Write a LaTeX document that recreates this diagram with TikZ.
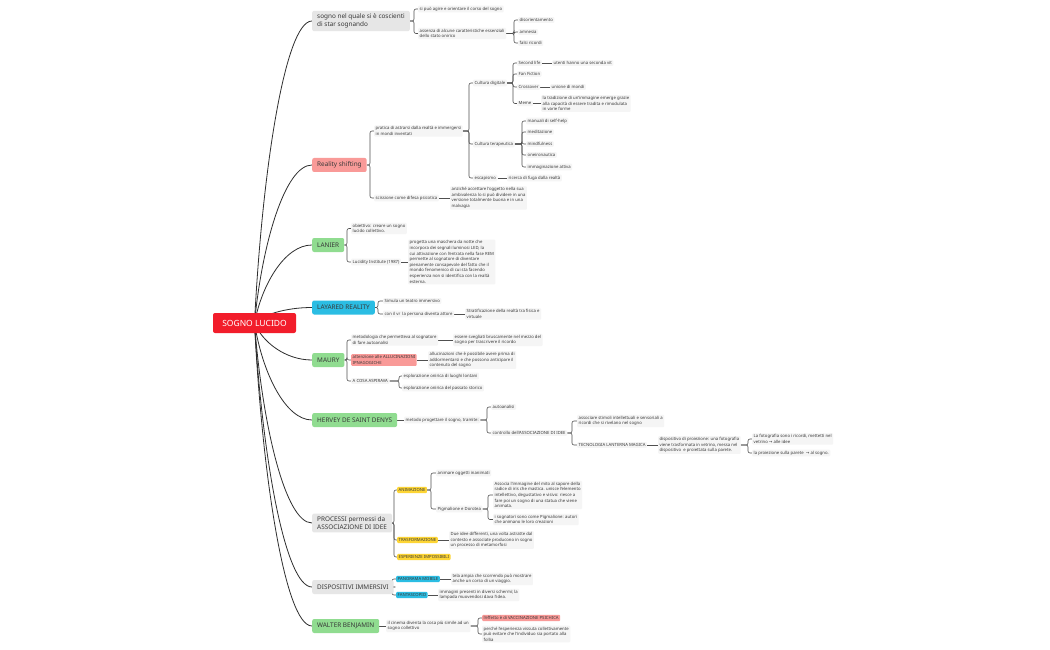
\documentclass[tikz,border=0pt]{standalone}
\usepackage{fontspec}
\setmainfont{Noto Sans}
\newfontfamily\symf{DejaVu Sans}
\usetikzlibrary{backgrounds}
\definecolor{rootred}{HTML}{F21D2B}
\definecolor{pinkc}{HTML}{F99A98}
\definecolor{greenc}{HTML}{90DC90}
\definecolor{cyanc}{HTML}{2BBDE3}
\definecolor{yelc}{HTML}{FDD535}
\definecolor{maingray}{HTML}{E6E6E6}
\definecolor{leafbg}{HTML}{F5F5F5}
\definecolor{txt}{HTML}{383838}
\definecolor{linegray}{HTML}{505050}
\definecolor{linedark}{HTML}{2E2E2E}
\newcommand\arr{{\symf →}}
\newcommand\brk[3]{\draw[conn] (#1.east) -- (#3,0 |- #1.east) |- (#2.west);}
\newcommand\stl[2]{\draw[conn] (#1.east) -- (#2.west);}
\newcommand\rc[2]{\draw[rootconn] (root.center) .. controls (262,{(323+#2)/2}) and (285,#2) .. (#1.west);}
\tikzset{
  conn/.style={draw=linegray, line width=0.6pt, rounded corners=2pt},
  rootconn/.style={draw=linedark, line width=0.8pt},
  leaf/.style={anchor=west, fill=leafbg, rounded corners=1pt, inner xsep=1.5pt, inner ysep=1.2pt,
    font=\fontsize{4.25}{5.6}\selectfont, align=left, text=txt},
  tagred/.style={leaf, fill=pinkc, inner ysep=1.5pt},
  tagyel/.style={leaf, fill=yelc, inner ysep=1.5pt},
  tagcyan/.style={leaf, fill=cyanc, inner ysep=1.5pt},
  mainb/.style={anchor=west, rounded corners=2pt, inner xsep=5pt, inner ysep=3pt, minimum height=14pt,
    font=\fontsize{6.4}{8}\selectfont, align=left, text=txt},
  mgray/.style={mainb, fill=maingray},
  mpink/.style={mainb, fill=pinkc},
  mgreen/.style={mainb, fill=greenc},
  mcyan/.style={mainb, fill=cyanc},
  rootn/.style={fill=rootred, text=white, rounded corners=2pt, minimum width=83pt, minimum height=20pt,
    font=\bfseries\fontsize{8.5}{10}\selectfont}
}
\begin{document}
\begin{tikzpicture}[x=1pt,y=-1pt]
\useasboundingbox (0,0) rectangle (1050,650);
% root and main branches
\node[rootn] (root) at (254.5,323) {SOGNO LUCIDO};
\node[mgray] (b1) at (312,21) {sogno nel quale si è coscienti\\di star sognando};
\node[mpink] (b2) at (312,165) {Reality shifting};
\node[mgreen] (b3) at (312,245) {LANIER};
\node[mcyan] (b4) at (312,307.5) {LAYARED REALITY};
\node[mgreen] (b5) at (312,360) {MAURY};
\node[mgreen] (b6) at (312,420) {HERVEY DE SAINT DENYS};
\node[mgray] (b7) at (312,523) {PROCESSI permessi da\\ASSOCIAZIONE DI IDEE};
\node[mgray] (b8) at (312,587) {DISPOSITIVI IMMERSIVI};
\node[mgreen] (b9) at (312,626) {WALTER BENJAMIN};
% branch 1
\node[leaf] (a1) at (418,9) {si può agire e orientare il corso del sogno};
\node[leaf] (a2) at (418,33.5) {assenza di alcune caratteristiche essenziali\\dello stato onirico};
\node[leaf] (a21) at (518,20) {disorientamento};
\node[leaf] (a22) at (518,32) {amnesia};
\node[leaf] (a23) at (518,43) {falsi ricordi};
% branch 2
\node[leaf] (r1) at (374,131) {pratica di astrarsi dalla realtà e immergersi\\in mondi inventati};
\node[leaf] (r2) at (374,198) {scissione come difesa psicotica};
\node[leaf] (r21) at (450,198) {anziché accettare l'oggetto nella sua\\ambivalenza lo si può dividere in una\\versione totalmente buona e in una\\malvagia};
\node[leaf] (cd) at (473,83) {Cultura digitale};
\node[leaf] (ct) at (473,144) {Cultura terapeutica};
\node[leaf] (es) at (473,178) {escapismo};
\node[leaf] (es1) at (507,178) {ricerca di fuga dalla realtà};
\node[leaf] (sl) at (517,63) {Second life};
\node[leaf] (sl1) at (552,63) {utenti hanno una seconda vit};
\node[leaf] (ff) at (517,74) {Fan Fiction};
\node[leaf] (co) at (517,87) {Crossover};
\node[leaf] (co1) at (550,87) {unione di mondi};
\node[leaf] (me) at (517,103.5) {Meme};
\node[leaf] (me1) at (541,103.5) {la tradizione di un'immagine emerge grazie\\alla capacità di essere tradita e rimodulata\\in varie forme};
\node[leaf] (t1) at (526,121) {manuali di self-help};
\node[leaf] (t2) at (526,132) {meditazione};
\node[leaf] (t3) at (526,144) {mindfulness};
\node[leaf] (t4) at (526,155) {oneironautica};
\node[leaf] (t5) at (526,167) {immaginazione attiva};
% LANIER
\node[leaf] (l1) at (351,228.5) {obiettivo: creare un sogno\\lucido collettivo.};
\node[leaf] (l2) at (351,262) {Lucidity Institute (1987)};
\node[leaf] (l21) at (408,262) {progetta una maschera da notte che\\incorpora dei segnali luminosi LED, la\\cui attivazione con l'entrata nella fase REM\\permette al sognatore di diventare\\pienamente consapevole del fatto che il\\mondo fenomenico di cui sta facendo\\esperienza non si identifica con la realtà\\esterna.};
% LAYARED
\node[leaf] (y1) at (383,301) {Simula un teatro immersivo};
\node[leaf] (y2) at (383,314) {con il vr\ \ la persona diventa attore};
\node[leaf] (y21) at (465,314) {Stratificazione della realtà tra fisica e\\virtuale};
% MAURY
\node[leaf] (m1) at (351,340) {metodologia che permetteva al sognatore\\di fare autoanalisi};
\node[leaf] (m11) at (453,340) {essere svegliati bruscamente nel mezzo del\\sogno per trascrivere il ricordo};
\node[tagred] (m2) at (351,360) {attenzione alle ALLUCINAZIONI\\IPNAGOGICHE};
\node[leaf] (m21) at (428,360) {allucinazioni che è possibile avere prima di\\addormentarsi e che possono anticipare il\\contenuto del sogno};
\node[leaf] (m3) at (351,381) {A COSA ASPIRAVA};
\node[leaf] (m31) at (402,376) {esplorazione onirica di luoghi lontani};
\node[leaf] (m32) at (402,388) {esplorazione onirica del passato storico};
% HERVEY
\node[leaf] (h1) at (404,420) {metodo progettare il sogno, tramite:};
\node[leaf] (h11) at (491,407) {autoanalisi};
\node[leaf] (h12) at (491,433) {controllo dell'ASSOCIAZIONE DI IDEE};
\node[leaf] (h121) at (577,421) {associare stimoli intellettuali e sensoriali a\\ricordi che si rivelano nel sogno};
\node[leaf] (h122) at (577,445) {TECNOLOGIA LANTERNA MAGICA};
\node[leaf] (h1221) at (658,445) {dispositivo di proiezione: una fotografia\\viene trasformata in vetrino, messa nel\\dispositivo\ \ e proiettata sulla parete.};
\node[leaf] (lf1) at (752,439) {La fotografia sono i ricordi, mettetti nel\\vetrino \arr{} alle idee};
\node[leaf] (lf2) at (752,453) {la proiezione sulla parete\ \ \arr{} al sogno.};
% PROCESSI
\node[tagyel] (p1) at (397,490) {ANIMAZIONE};
\node[leaf] (p11) at (436,473) {animare oggetti inanimati};
\node[leaf] (p12) at (436,509) {Pigmalione e Dorotea};
\node[leaf] (p121) at (493,495) {Associa l'immagine del mito al sapore della\\radice di iris che mastica. unisce l'elemento\\intellettivo, degustativo e visivo: riesce a\\fare poi un sogno di una statua che viene\\animata.};
\node[leaf] (p122) at (493,519.5) {i sognatori sono come Pigmalione: autori\\che animano le loro creazioni};
\node[tagyel] (p2) at (397,540) {TRASFORMAZIONE};
\node[leaf] (p21) at (449,540) {Due idee differenti, una volta astratte dal\\contesto e associate producono in sogno\\un processo di metamorfosi};
\node[tagyel] (p3) at (397,557) {ESPERIENZE IMPOSSIBILI};
% DISPOSITIVI
\node[tagcyan] (d1) at (396,579) {PANORAMA MOBILE};
\node[leaf] (d11) at (451,579) {tela ampia che scorrendo può mostrare\\anche un corso di un viaggio.};
\node[tagcyan] (d2) at (396,595) {FANTASCOPIO};
\node[leaf] (d21) at (438,595) {immagini presenti in diversi schermi; la\\lampada muovendosi dava l'idea.};
% WALTER
\node[leaf] (w1) at (386,626) {il cinema diventa la cosa più simile ad un\\sogno collettivo};
\node[tagred] (w11) at (482,618) {l'effetto è di VACCINAZIONE PSICHICA};
\node[leaf] (w12) at (482,634) {perché l'esperienza vissuta collettivamente\\può evitare che l'individuo sia portato alla\\follia};
\begin{scope}[on background layer]
\fill[white] (0,0) rectangle (1050,650);
\rc{b1}{21}\rc{b2}{165}\rc{b3}{245}\rc{b4}{307.5}\rc{b5}{360}\rc{b6}{420}\rc{b7}{523}\rc{b8}{587}\rc{b9}{626}
\brk{b1}{a1}{414}\brk{b1}{a2}{414}
\brk{a2}{a21}{514}\brk{a2}{a22}{514}\brk{a2}{a23}{514}
\brk{b2}{r1}{370}\brk{b2}{r2}{370}
\stl{r2}{r21}
\brk{r1}{cd}{469}\brk{r1}{ct}{469}\brk{r1}{es}{469}
\stl{es}{es1}
\brk{cd}{sl}{513}\brk{cd}{ff}{513}\brk{cd}{co}{513}\brk{cd}{me}{513}
\stl{sl}{sl1}\stl{co}{co1}\stl{me}{me1}
\brk{ct}{t1}{522}\brk{ct}{t2}{522}\brk{ct}{t3}{522}\brk{ct}{t4}{522}\brk{ct}{t5}{522}
\brk{b3}{l1}{347}\brk{b3}{l2}{347}
\stl{l2}{l21}
\brk{b4}{y1}{378}\brk{b4}{y2}{378}
\stl{y2}{y21}
\brk{b5}{m1}{347}\brk{b5}{m2}{347}\brk{b5}{m3}{347}
\stl{m1}{m11}\stl{m2}{m21}
\brk{m3}{m31}{399}\brk{m3}{m32}{399}
\stl{b6}{h1}
\brk{h1}{h11}{487}\brk{h1}{h12}{487}
\brk{h12}{h121}{572}\brk{h12}{h122}{572}
\stl{h122}{h1221}
\brk{h1221}{lf1}{748}\brk{h1221}{lf2}{748}
\brk{b7}{p1}{394}\brk{b7}{p2}{394}\brk{b7}{p3}{394}
\brk{p1}{p11}{431}\brk{p1}{p12}{431}
\brk{p12}{p121}{488}\brk{p12}{p122}{488}
\stl{p2}{p21}
\brk{b8}{d1}{392}\brk{b8}{d2}{392}
\stl{d1}{d11}\stl{d2}{d21}
\stl{b9}{w1}
\brk{w1}{w11}{478}\brk{w1}{w12}{478}
\end{scope}
\end{tikzpicture}
\end{document}
